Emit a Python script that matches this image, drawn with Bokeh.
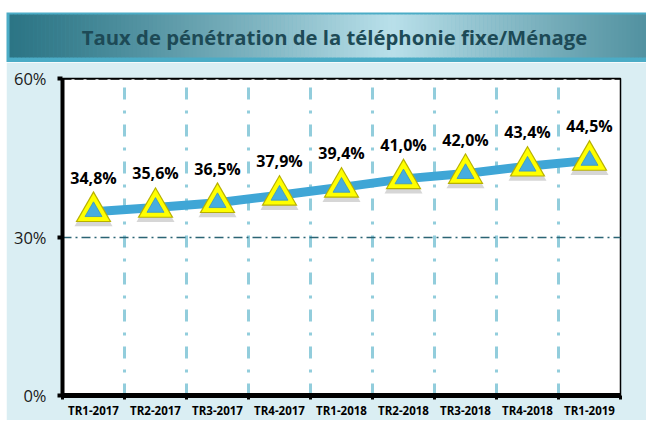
from bokeh.plotting import figure
from bokeh.layouts import column, row
from bokeh.models import (Range1d, FixedTicker, CustomJSTickFormatter, LabelSet,
                          ColumnDataSource, Span, Spacer)
from bokeh.core.properties import value
from bokeh.embed import file_html
from bokeh.resources import INLINE

# ---- data ----
categories = ["TR1-2017", "TR2-2017", "TR3-2017", "TR4-2017", "TR1-2018",
              "TR2-2018", "TR3-2018", "TR4-2018", "TR1-2019"]
penetration = [34.8, 35.6, 36.5, 37.9, 39.4, 41.0, 42.0, 43.4, 44.5]
value_labels = ["34,8%", "35,6%", "36,5%", "37,9%", "39,4%",
                "41,0%", "42,0%", "43,4%", "44,5%"]
y_ticks = [0, 30, 60]
y_tick_labels = ["0%", "30%", "60%"]
title_text = "Taux de pénétration de la téléphonie fixe/Ménage"

W = 646
FONT = "Open Sans"

# ---- title banner ----
TH = 62
tb = figure(width=W, height=TH, x_range=Range1d(0, W), y_range=Range1d(0, TH),
            output_backend="svg", toolbar_location=None, min_border=0)
tb.axis.visible = False
tb.grid.visible = False
tb.outline_line_color = None
tb.background_fill_color = "white"
tb.border_fill_color = "white"

def lerp(c1, c2, t):
    a = [int(c1[i:i + 2], 16) for i in (1, 3, 5)]
    b = [int(c2[i:i + 2], 16) for i in (1, 3, 5)]
    return "#%02x%02x%02x" % tuple(round(a[k] + (b[k] - a[k]) * t) for k in range(3))

tb.quad(left=6, right=W, bottom=0, top=TH - 12, fill_color="#4bacc6", line_color=None)
n = 160
x_start = 9
edge, mid = "#2c7585", "#b9e0ea"
lefts, rights, cols = [], [], []
for i in range(n):
    x0 = x_start + (W - x_start) * i / n
    x1 = x_start + (W - x_start) * (i + 1) / n + 0.5
    t = 1 - abs(((i + 0.5) / n) - 0.6) / 0.6
    t = max(0.0, min(1.0, t)) ** 1.2
    lefts.append(x0); rights.append(x1); cols.append(lerp(edge, mid, t))
tb.quad(left=lefts, right=rights, bottom=TH - 57, top=TH - 14, fill_color=cols,
        line_color=None)
tb.text(x=[334], y=[TH - 36.5], text=[title_text], text_font=value(FONT),
        text_font_style="bold", text_font_size="20.3px", text_color="#1d4a56",
        text_align="center", text_baseline="middle")

# ---- main chart ----
xs = list(range(len(categories)))
src = ColumnDataSource(dict(x=xs, y=penetration, lab=value_labels,
                            ys=[v - 0.7 for v in penetration]))

p = figure(width=W - 6, height=358, x_range=Range1d(-0.5, len(categories) - 0.5),
           y_range=Range1d(0, 60), output_backend="svg", toolbar_location=None,
           min_border_left=56, min_border_right=26, min_border_top=16,
           min_border_bottom=23)
p.background_fill_color = "white"
p.border_fill_color = "#daeef3"
p.outline_line_color = "black"
p.outline_line_width = 1.5

# grids
boundaries = [i + 0.5 for i in range(-1, len(categories))]
p.xgrid.ticker = FixedTicker(ticks=boundaries[1:-1])
p.xgrid.grid_line_color = "#92cddc"
p.xgrid.grid_line_width = 3
p.xgrid.grid_line_dash = "12 11 3 11"
p.ygrid.ticker = FixedTicker(ticks=[30])
p.ygrid.grid_line_color = "#2b6474"
p.ygrid.grid_line_width = 1.5
p.ygrid.grid_line_dash = "9 4 2 4"
p.add_layout(Span(location=60, dimension="width", line_color="black",
                  line_width=2.5, line_dash="9 3"))

# axes
p.yaxis.ticker = FixedTicker(ticks=y_ticks)
p.yaxis.major_label_overrides = {t: l for t, l in zip(y_ticks, y_tick_labels)}
p.yaxis.axis_line_width = 4
p.yaxis.axis_line_color = "black"
p.yaxis.major_tick_line_width = 4
p.yaxis.major_tick_out = 5
p.yaxis.major_tick_in = 0
p.yaxis.minor_tick_line_color = None
p.yaxis.major_label_text_font = FONT
p.yaxis.major_label_text_font_size = "16.5px"
p.yaxis.major_label_text_color = "#1a1a1a"
p.yaxis.major_label_standoff = 11

p.xaxis.ticker = FixedTicker(ticks=xs, minor_ticks=boundaries)
p.xaxis.formatter = CustomJSTickFormatter(args=dict(cats=categories),
                                          code="return cats[Math.round(tick)] || '';")
p.xaxis.axis_line_width = 5
p.xaxis.axis_line_color = "black"
p.xaxis.major_tick_line_color = None
p.xaxis.minor_tick_line_color = "black"
p.xaxis.minor_tick_line_width = 3
p.xaxis.minor_tick_out = 4
p.xaxis.minor_tick_in = 0
p.xaxis.major_label_text_font = FONT
p.xaxis.major_label_text_font_style = "bold"
p.xaxis.major_label_text_font_size = "11.5px"
p.xaxis.major_label_text_color = "black"
p.xaxis.major_label_standoff = 1

# series
p.line("x", "y", source=src, line_color="#3fa6d6", line_width=9)
p.scatter("x", "ys", source=src, marker="triangle", size=38, fill_color="#444444",
          fill_alpha=0.22, line_color=None)
p.scatter("x", "y", source=src, marker="triangle", size=36, fill_color="#b8b000",
          line_color=None)
p.scatter("x", "y", source=src, marker="triangle", size=32, fill_color="#ffff00",
          line_color=None)
p.scatter("x", "y", source=src, marker="triangle", size=17, fill_color="#46ade0",
          line_color="#3a95c0", line_width=0.8)

labels = LabelSet(x="x", y="y", text="lab", source=src, y_offset=34,
                  text_align="center", text_baseline="middle",
                  text_font=value(FONT), text_font_style="bold",
                  text_font_size="16px", text_color="black")
p.add_layout(labels)

layout = column(tb, row(Spacer(width=6, height=358), p, spacing=0), spacing=0)
open("out.html", "w").write(file_html(layout, INLINE))
